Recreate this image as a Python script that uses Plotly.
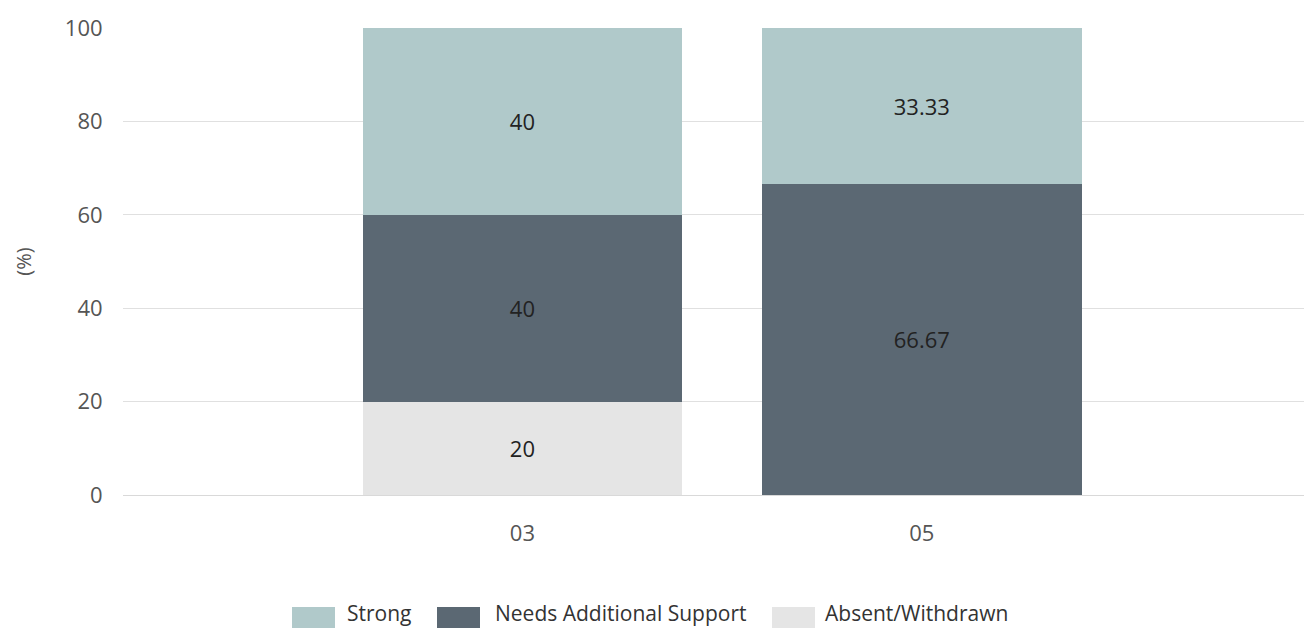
import plotly.graph_objects as go

categories = ["03", "05"]
strong = [40, 33.33]
needs_support = [40, 66.67]
absent = [20, 0]
y_ticks = [0, 20, 40, 60, 80, 100]

legend_names = ["Strong", "Needs Additional Support", "Absent/Withdrawn"]
colors = {"Strong": "#b0c9ca", "Needs Additional Support": "#5b6873", "Absent/Withdrawn": "#e5e5e5"}
font_family = "Open Sans, Noto Sans, sans-serif"

# figure geometry (page body adds an 8px offset)
W, H = 1304, 620
L, R, T, B = 115, 0, 20, 133
PW, PH = W - L - R, H - T - B

fig = go.Figure()
series = [("Absent/Withdrawn", absent), ("Needs Additional Support", needs_support), ("Strong", strong)]
for name, vals in series:
    fig.add_trace(go.Bar(
        x=categories, y=vals, name=name, showlegend=False,
        marker=dict(color=colors[name], line=dict(width=0)),
        text=[("%g" % v) if v else "" for v in vals],
        textposition="inside", insidetextanchor="middle",
        textfont=dict(color="#222222", size=22, family=font_family),
        textangle=0,
    ))

# custom legend with wide swatches (positions in window pixels)
def px_x(wx):
    return (wx - 8 - L) / PW

def px_y(wy):
    return (H - B - (wy - 8)) / PH

legend_swatch_x = [292, 437, 772]
legend_text_x = [345, 493, 823]
for name, sx, tx in zip(legend_names, legend_swatch_x, legend_text_x):
    fig.add_shape(type="rect", xref="paper", yref="paper",
                  x0=px_x(sx), x1=px_x(sx + 43), y0=px_y(607), y1=px_y(628),
                  fillcolor=colors[name], line=dict(width=0), layer="above")
    fig.add_annotation(xref="paper", yref="paper", x=px_x(tx), y=px_y(613),
                       xanchor="left", yanchor="middle", showarrow=False,
                       text=name, font=dict(size=21, color="#333333", family=font_family))

fig.update_layout(
    barmode="stack", bargap=0.2,
    width=W, height=H,
    margin=dict(l=L, r=R, t=T, b=B),
    paper_bgcolor="white", plot_bgcolor="white",
    font=dict(family=font_family, size=22, color="#555555"),
    showlegend=False,
)
fig.update_xaxes(type="category", range=[-1, 1.977], showgrid=False, showline=False,
                 ticks="outside", ticklen=19, tickcolor="rgba(0,0,0,0)",
                 tickfont=dict(size=22, color="#555555"))
fig.update_yaxes(range=[0, 100], tickvals=y_ticks, showgrid=True, gridcolor="#e0e0e0",
                 zeroline=True, zerolinecolor="#d9d9d9", zerolinewidth=1,
                 ticks="outside", ticklen=15, tickcolor="rgba(0,0,0,0)",
                 tickfont=dict(size=22, color="#555555"),
                 title=dict(text="(%)", font=dict(size=20, color="#555555"), standoff=27))

fig.write_html("out.html")
